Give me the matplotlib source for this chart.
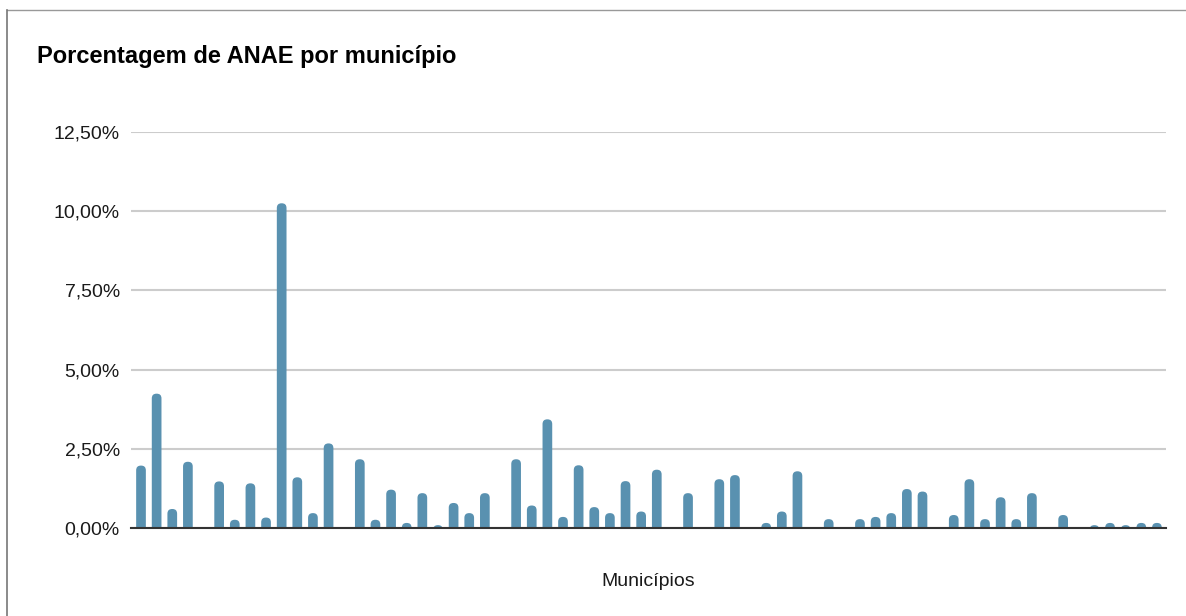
import matplotlib.pyplot as plt
from matplotlib.patches import FancyBboxPatch
from matplotlib.lines import Line2D
from matplotlib.ticker import FuncFormatter

plt.rcParams['font.family'] = ['Liberation Sans', 'DejaVu Sans']

# porcentagem de ANAE por município (%)
valores = [1.97, 4.24, 0.60, 2.09, 0.00, 1.47, 0.26, 1.41, 0.33, 10.25,
           1.60, 0.47, 2.67, 0.00, 2.17, 0.26, 1.21, 0.16, 1.10, 0.09,
           0.79, 0.47, 1.10, 0.00, 2.17, 0.71, 3.43, 0.35, 1.98, 0.66,
           0.47, 1.48, 0.52, 1.84, 0.00, 1.10, 0.00, 1.54, 1.67, 0.00,
           0.16, 0.52, 1.79, 0.00, 0.28, 0.00, 0.28, 0.35, 0.47, 1.23,
           1.15, 0.00, 0.41, 1.54, 0.28, 0.97, 0.28, 1.10, 0.00, 0.41,
           0.00, 0.09, 0.16, 0.09, 0.16, 0.16]
municipios = list(range(len(valores)))
yticks = [0, 2.5, 5, 7.5, 10, 12.5]

cor = '#5991b0'

W, H = 1186, 616
fig = plt.figure(figsize=(W / 100, H / 100), dpi=100)
ax = fig.add_axes([131 / W, 1 - 528 / H, (1166 - 131) / W, (528 - 132) / H])

bars = ax.bar(municipios, valores, width=0.62, color=cor, zorder=2)
ax.set_xlim(-0.64, len(valores) - 0.42)
ax.set_ylim(0, 12.5)

# topo arredondado das barras
for b in bars:
    b.set_visible(False)
    p = FancyBboxPatch((b.get_x(), -0.4), b.get_width(), b.get_height() + 0.4,
                       boxstyle='round,pad=0,rounding_size=0.3',
                       mutation_aspect=0.493, facecolor=cor,
                       edgecolor='none', zorder=2)
    ax.add_patch(p)

ax.set_yticks(yticks)
ax.yaxis.set_major_formatter(FuncFormatter(lambda v, pos: f'{v:.2f}%'.replace('.', ',')))
ax.tick_params(axis='y', length=0, pad=8, labelsize=14, labelcolor='#1a1a1a')
ax.set_xticks([])
ax.yaxis.grid(True, color='#cccccc', linewidth=1.5)
ax.set_axisbelow(True)
for s in ['top', 'right', 'left']:
    ax.spines[s].set_visible(False)
ax.spines['bottom'].set_color('#333333')
ax.spines['bottom'].set_linewidth(1.5)
ax.spines['bottom'].set_zorder(3)

fig.text(37 / W, 1 - 56 / H, 'Porcentagem de ANAE por município', fontsize=17,
         fontweight='bold', ha='left', va='center', color='#000000')
fig.text(648.5 / W, 1 - 581 / H, 'Municípios', fontsize=14, ha='center',
         va='center', color='#1a1a1a')

# moldura
fig.add_artist(Line2D([6.5 / W, 1], [1 - 10 / H, 1 - 10 / H],
                      transform=fig.transFigure, color='#999999', lw=1))
fig.add_artist(Line2D([6.5 / W, 6.5 / W], [1 - 10 / H, 0],
                      transform=fig.transFigure, color='#777777', lw=1.2))

fig.savefig('out.png', dpi=100)
